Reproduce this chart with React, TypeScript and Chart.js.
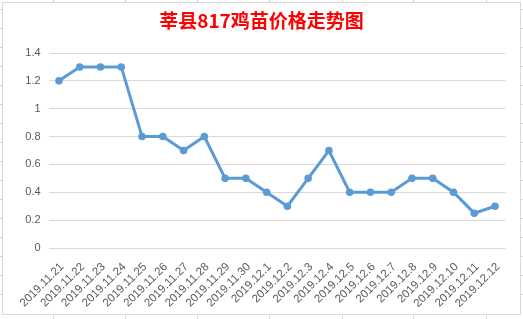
import React, { useEffect, useRef } from "react";
import { Chart, registerables } from "chart.js";

Chart.register(...registerables);

const title = "莘县817鸡苗价格走势图";
const categories = [
  "2019.11.21", "2019.11.22", "2019.11.23", "2019.11.24", "2019.11.25",
  "2019.11.26", "2019.11.27", "2019.11.28", "2019.11.29", "2019.11.30",
  "2019.12.1", "2019.12.2", "2019.12.3", "2019.12.4", "2019.12.5",
  "2019.12.6", "2019.12.7", "2019.12.8", "2019.12.9", "2019.12.10",
  "2019.12.11", "2019.12.12",
];
const prices = [
  1.2, 1.3, 1.3, 1.3, 0.8, 0.8, 0.7, 0.8, 0.5, 0.5, 0.4,
  0.3, 0.5, 0.7, 0.4, 0.4, 0.4, 0.5, 0.5, 0.4, 0.25, 0.3,
];
const yMin = 0;
const yMax = 1.4;
const yStep = 0.2;

const sheetRows = [9, 28, 47, 66, 85, 104, 123, 142, 161, 180, 199, 218, 237, 256, 275, 294];
const sheetCols = [53, 125, 197, 269, 342, 413, 486];

export default function App() {
  const ref = useRef<HTMLCanvasElement | null>(null);

  useEffect(() => {
    document.body.style.margin = "0";
    document.body.style.background = "#ffffff";
    const canvas = ref.current;
    if (!canvas) return;
    const chart = new Chart(canvas, {
      type: "line",
      data: {
        labels: categories,
        datasets: [
          {
            data: prices,
            borderColor: "#5B9BD5",
            backgroundColor: "#5B9BD5",
            borderWidth: 3,
            pointRadius: 3.8,
            pointBackgroundColor: "#5B9BD5",
            pointBorderColor: "#5B9BD5",
            pointBorderWidth: 0,
            tension: 0,
          },
        ],
      },
      options: {
        responsive: false,
        animation: false,
        devicePixelRatio: 1,
        layout: { padding: { left: 0, right: 17.6, top: 53, bottom: 0 } },
        plugins: {
          legend: { display: false },
          tooltip: { enabled: false },
          title: { display: false },
        },
        scales: {
          x: {
            offset: true,
            grid: { display: false, drawTicks: false },
            border: { display: false },
            ticks: {
              autoSkip: false,
              maxRotation: 45,
              minRotation: 45,
              padding: 12,
              labelOffset: 3,
              color: "#595959",
              font: { family: "'Liberation Sans', Arial, sans-serif", size: 11.5 },
            },
            afterFit: (scale: any) => {
              scale.height = 71;
            },
          },
          y: {
            min: yMin,
            max: yMax,
            grid: { color: "#d9d9d9", drawTicks: false, lineWidth: 1 },
            border: { display: false },
            ticks: {
              stepSize: yStep,
              padding: 8,
              color: "#595959",
              font: { family: "'Liberation Sans', Arial, sans-serif", size: 11 },
              callback: (v: any) => String(Math.round(Number(v) * 10) / 10),
            },
            afterFit: (scale: any) => {
              scale.width = 48.6;
            },
          },
        },
      },
    });
    return () => chart.destroy();
  }, []);

  return (
    <div style={{ position: "relative", width: 523, height: 319, background: "#fff", overflow: "hidden" }}>
      {sheetRows.map((y) => (
        <React.Fragment key={"r" + y}>
          <div style={{ position: "absolute", left: 0, top: y, width: 2, height: 1, background: "#d4d4d4" }} />
          <div style={{ position: "absolute", left: 521, top: y, width: 2, height: 1, background: "#d4d4d4" }} />
        </React.Fragment>
      ))}
      {sheetCols.map((x) => (
        <React.Fragment key={"c" + x}>
          <div style={{ position: "absolute", left: x, top: 0, width: 1, height: 2, background: "#d4d4d4" }} />
          <div style={{ position: "absolute", left: x, top: 316, width: 1, height: 3, background: "#d4d4d4" }} />
        </React.Fragment>
      ))}
      <div
        style={{
          position: "absolute",
          left: 2,
          top: 2,
          width: 517,
          height: 311,
          border: "1px solid #d9d9d9",
          background: "#fff",
        }}
      />
      <canvas ref={ref} width={523} height={319} style={{ position: "absolute", left: 0, top: 0 }} />
      <div
        style={{
          position: "absolute",
          left: 0,
          width: 523,
          top: 8,
          textAlign: "center",
          color: "#FF0000",
          fontWeight: "bold",
          fontSize: 19,
          lineHeight: "24px",
          fontFamily: "'Noto Sans CJK SC', sans-serif",
        }}
      >
        {title}
      </div>
    </div>
  );
}
